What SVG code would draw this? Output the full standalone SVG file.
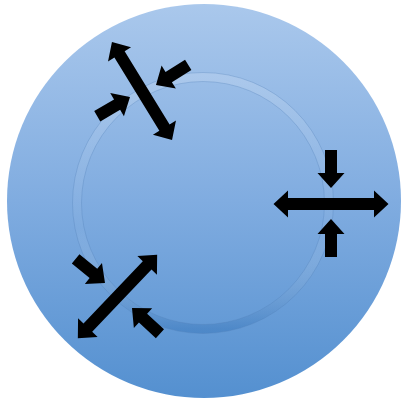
<svg xmlns="http://www.w3.org/2000/svg" width="404" height="399" viewBox="0 0 404 399">
  <defs>
    <linearGradient id="bg" x1="0" y1="0" x2="0" y2="1">
      <stop offset="0" stop-color="#aac8ec"/>
      <stop offset="0.5" stop-color="#80ace0"/>
      <stop offset="1" stop-color="#5490d0"/>
    </linearGradient>
    <linearGradient id="ring" x1="0" y1="0" x2="0" y2="1">
      <stop offset="0" stop-color="#ffffff" stop-opacity="0.16"/>
      <stop offset="0.6" stop-color="#ffffff" stop-opacity="0.03"/>
      <stop offset="1" stop-color="#2f6fb5" stop-opacity="0.4"/>
    </linearGradient>
    <path id="dbl" d="M-57.5,0 L-43,-13.5 L-43,-6 L43,-6 L43,-13.5 L57.5,0 L43,13.5 L43,6 L-43,6 L-43,13.5 Z"/>
    <path id="sgl" d="M0,0 L-15,-13.5 L-15,-6 L-38,-6 L-38,6 L-15,6 L-15,13.5 Z"/>
    <style>
      .arw { fill: #000000; }
      .edge { fill: none; stroke: #4f7fb6; stroke-opacity: 0.3; stroke-width: 1; }
    </style>
  </defs>
  <rect width="404" height="399" fill="#ffffff"/>
  <g id="disc">
    <circle cx="204" cy="201" r="197" fill="url(#bg)"/>
  </g>
  <g id="ring-group">
    <circle cx="203" cy="203" r="126" fill="none" stroke="url(#ring)" stroke-width="9"/>
    <circle class="edge" cx="203" cy="203" r="130.5"/>
    <circle class="edge" cx="203" cy="203" r="121.5"/>
  </g>
  <g id="connectors">
    <g id="top-left">
      <use href="#dbl" class="arw" transform="translate(142,91) rotate(58.5)"/>
      <use href="#sgl" class="arw" transform="translate(156,85) rotate(148)"/>
      <use href="#sgl" class="arw" transform="translate(130,97) rotate(-30.5)"/>
    </g>
    <g id="right">
      <use href="#dbl" class="arw" transform="translate(331,204)"/>
      <use href="#sgl" class="arw" transform="translate(331,188) rotate(90)"/>
      <use href="#sgl" class="arw" transform="translate(331,219) rotate(-90)"/>
    </g>
    <g id="bottom-left">
      <use href="#dbl" class="arw" transform="translate(117.5,296.5) rotate(-46.4)"/>
      <use href="#sgl" class="arw" transform="translate(105,283) rotate(39.4)"/>
      <use href="#sgl" class="arw" transform="translate(132,308) rotate(-137.3)"/>
    </g>
  </g>
</svg>
